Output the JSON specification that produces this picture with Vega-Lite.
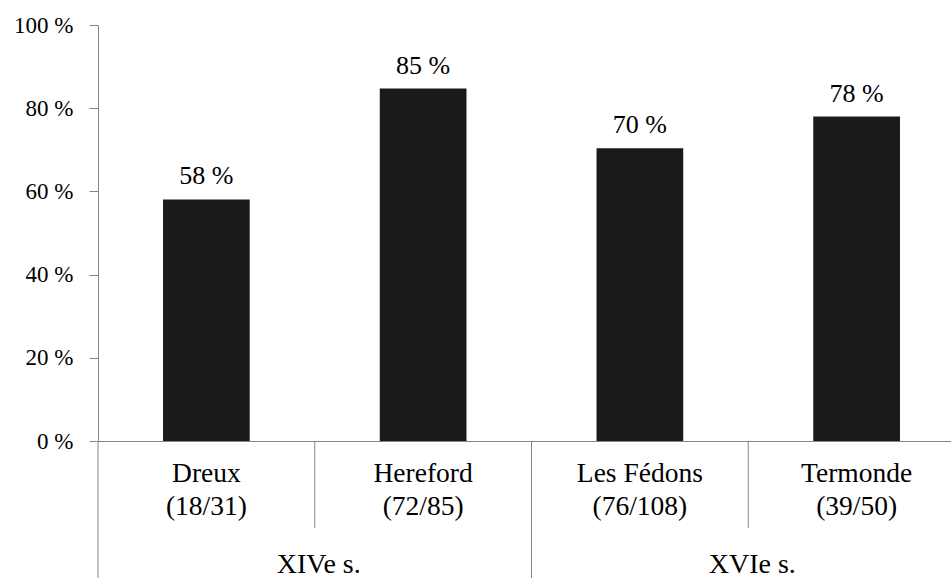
{
  "$schema": "https://vega.github.io/schema/vega-lite/v6.json",
  "autosize": {"type": "none"},
  "padding": {"left": 98, "top": 25, "right": 0, "bottom": 137},
  "width": 853,
  "height": 416,
  "background": "white",
  "config": {
    "view": {"stroke": null},
    "font": "Liberation Serif",
    "axis": {"labelFont": "Liberation Serif", "labelFontSize": 23, "labelColor": "#000000"},
    "text": {"font": "Liberation Serif", "color": "#000000"}
  },
  "data": {
    "values": [
      {"site": "Dreux", "ratio": "(18/31)", "pct": 58.06, "group": "XIVe s."},
      {"site": "Hereford", "ratio": "(72/85)", "pct": 84.71, "group": "XIVe s."},
      {"site": "Les Fédons", "ratio": "(76/108)", "pct": 70.37, "group": "XVIe s."},
      {"site": "Termonde", "ratio": "(39/50)", "pct": 78.0, "group": "XVIe s."}
    ]
  },
  "encoding": {
    "x": {
      "field": "site",
      "type": "nominal",
      "sort": null,
      "scale": {"range": [0, 867], "paddingInner": 0, "paddingOuter": 0},
      "axis": {
        "title": null,
        "labels": false,
        "ticks": false,
        "domainColor": "#868686",
        "domainWidth": 1
      }
    }
  },
  "layer": [
    {
      "mark": {"type": "bar", "color": "#1a1a1a", "width": {"band": 0.4}},
      "encoding": {
        "y": {
          "field": "pct",
          "type": "quantitative",
          "scale": {"domain": [0, 100], "nice": false},
          "axis": {
            "title": null,
            "values": [0, 20, 40, 60, 80, 100],
            "labelExpr": "datum.value + ' %'",
            "labelFont": "Liberation Serif",
            "labelFontSize": 23,
            "labelColor": "#000000",
            "labelPadding": 16,
            "tickSize": 9,
            "tickColor": "#868686",
            "domainColor": "#868686",
            "grid": false
          }
        }
      }
    },
    {
      "mark": {"type": "text", "fontSize": 26, "baseline": "alphabetic", "dy": -15},
      "transform": [{"calculate": "format(datum.pct, '.0f') + ' %'", "as": "lab"}],
      "encoding": {
        "y": {"field": "pct", "type": "quantitative"},
        "text": {"field": "lab"}
      }
    },
    {
      "mark": {"type": "text", "fontSize": 27.5, "baseline": "alphabetic"},
      "encoding": {
        "y": {"datum": -9.78},
        "text": {"field": "site"}
      }
    },
    {
      "mark": {"type": "text", "fontSize": 27.5, "baseline": "alphabetic"},
      "encoding": {
        "y": {"datum": -17.79},
        "text": {"field": "ratio"}
      }
    },
    {
      "transform": [{"filter": "datum.site == 'Hereford' || datum.site == 'Termonde'"}],
      "mark": {"type": "text", "fontSize": 28, "baseline": "alphabetic", "dx": 4},
      "encoding": {
        "x": {"field": "site", "type": "nominal", "sort": null, "bandPosition": 0},
        "y": {"datum": -31.8},
        "text": {"field": "group"}
      }
    },
    {
      "transform": [{"filter": "datum.site == 'Hereford' || datum.site == 'Termonde'"}],
      "mark": {"type": "rule", "color": "#868686", "strokeWidth": 1},
      "encoding": {
        "x": {"field": "site", "type": "nominal", "sort": null, "bandPosition": 0},
        "y": {"datum": 0},
        "y2": {"datum": -20.9}
      }
    },
    {
      "transform": [{"filter": "datum.site == 'Dreux' || datum.site == 'Les Fédons'"}],
      "mark": {"type": "rule", "color": "#868686", "strokeWidth": 1},
      "encoding": {
        "x": {"field": "site", "type": "nominal", "sort": null, "bandPosition": 0},
        "y": {"datum": 0},
        "y2": {"datum": -34}
      }
    }
  ]
}
